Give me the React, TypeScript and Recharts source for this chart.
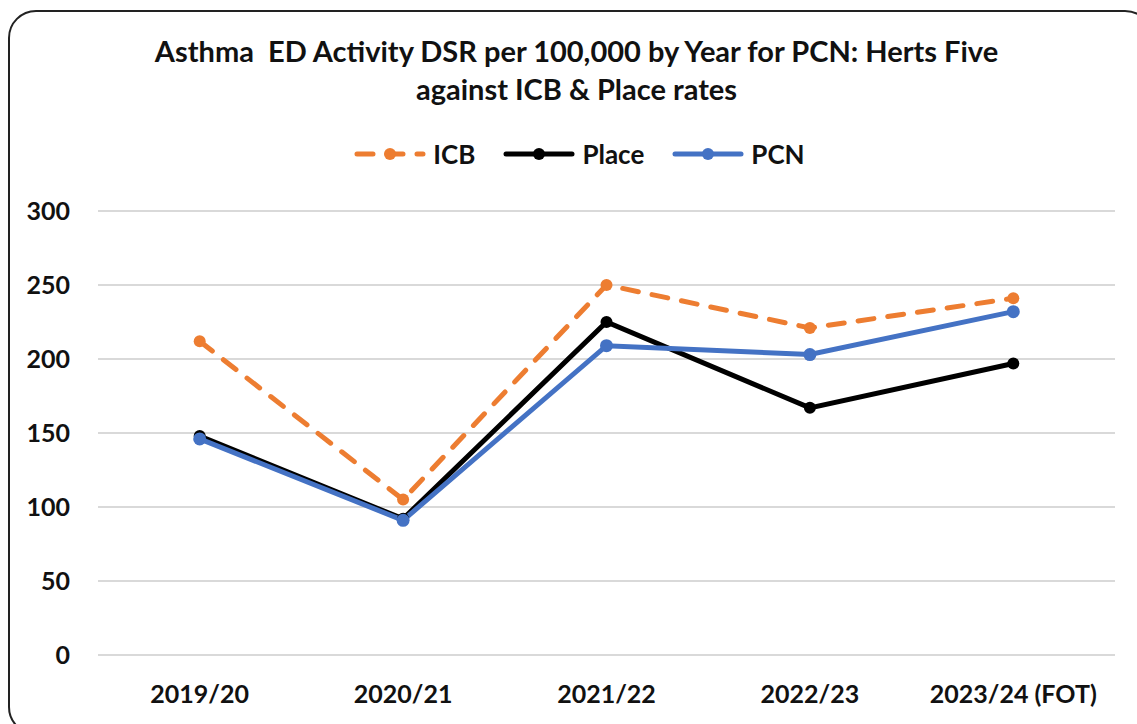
import { LineChart, Line, XAxis, YAxis, CartesianGrid, Legend } from 'recharts';

const years = ['2019/20', '2020/21', '2021/22', '2022/23', '2023/24 (FOT)'];
const icbRates = [212, 105, 250, 221, 241];
const placeRates = [148, 92, 225, 167, 197];
const pcnRates = [146, 91, 209, 203, 232];
const yTicks = [0, 50, 100, 150, 200, 250, 300];

const chartData = years.map((year, i) => ({
  year,
  ICB: icbRates[i],
  Place: placeRates[i],
  PCN: pcnRates[i],
}));

const FONT = 'Lato, "Open Sans", sans-serif';

const legendItems = [
  { name: 'ICB', color: '#ED7D31', dashed: true },
  { name: 'Place', color: '#000000', dashed: false },
  { name: 'PCN', color: '#4472C4', dashed: false },
];

function LegendContent() {
  return (
    <div style={{ height: 81, display: 'flex', justifyContent: 'center', alignItems: 'flex-start' }}>
      <div style={{ display: 'flex', gap: 28, alignItems: 'center', marginTop: 8, marginLeft: 6 }}>
        {legendItems.map(item => (
          <div key={item.name} style={{ display: 'flex', alignItems: 'center', gap: 7 }}>
            <svg width={72} height={20}>
              <line
                x1={3} y1={10} x2={69} y2={10}
                stroke={item.color}
                strokeWidth={5}
                strokeLinecap="round"
                strokeDasharray={item.dashed ? '16 14' : undefined}
              />
              <circle cx={36} cy={10} r={6} fill={item.color} />
            </svg>
            <span style={{ fontFamily: FONT, fontWeight: 700, fontSize: 26, color: '#111' }}>{item.name}</span>
          </div>
        ))}
      </div>
    </div>
  );
}

export default function App() {
  return (
    <div style={{ position: 'absolute', left: 0, top: 0, width: 1137, height: 724, overflow: 'hidden', background: '#fff' }}>
      <div
        style={{
          position: 'absolute', left: 8, top: 10, width: 1145, height: 725,
          border: '2px solid #222', borderRadius: 28, boxSizing: 'border-box',
        }}
      />
      <div
        style={{
          position: 'absolute', left: 8, top: 32, width: 1137, textAlign: 'center',
          fontFamily: FONT, fontWeight: 700, fontSize: 29, lineHeight: '38px', color: '#111',
        }}
      >
        Asthma&nbsp; ED Activity DSR per 100,000 by Year for PCN: Herts Five<br />against ICB &amp; Place rates
      </div>
      <div style={{ position: 'absolute', left: 0, top: 0 }}>
        <LineChart width={1137} height={724} data={chartData} margin={{ top: 130, right: 22, left: 38, bottom: 9 }}>
          <CartesianGrid vertical={false} stroke="#d9d9d9" strokeWidth={2} />
          <XAxis
            dataKey="year"
            axisLine={false}
            tickLine={false}
            height={60}
            tickMargin={24}
            padding={{ left: 101.7, right: 101.7 }}
            tick={{ fontFamily: FONT, fontWeight: 700, fontSize: 25, fill: '#111' }}
          />
          <YAxis
            domain={[0, 300]}
            ticks={yTicks}
            axisLine={false}
            tickLine={false}
            width={60}
            tickMargin={22}
            tick={{ fontFamily: FONT, fontWeight: 700, fontSize: 25, fill: '#111' }}
          />
          <Legend verticalAlign="top" height={81} content={<LegendContent />} />
          <Line
            dataKey="ICB"
            stroke="#ED7D31"
            strokeWidth={5}
            strokeDasharray="16 14"
            strokeLinecap="round"
            dot={{ r: 6, fill: '#ED7D31', stroke: '#ED7D31', strokeWidth: 0 }}
            isAnimationActive={false}
          />
          <Line
            dataKey="Place"
            stroke="#000000"
            strokeWidth={5}
            dot={{ r: 6, fill: '#000000', stroke: '#000000', strokeWidth: 0 }}
            isAnimationActive={false}
          />
          <Line
            dataKey="PCN"
            stroke="#4472C4"
            strokeWidth={5}
            dot={{ r: 6.5, fill: '#4472C4', stroke: '#4472C4', strokeWidth: 0 }}
            isAnimationActive={false}
          />
        </LineChart>
      </div>
    </div>
  );
}
